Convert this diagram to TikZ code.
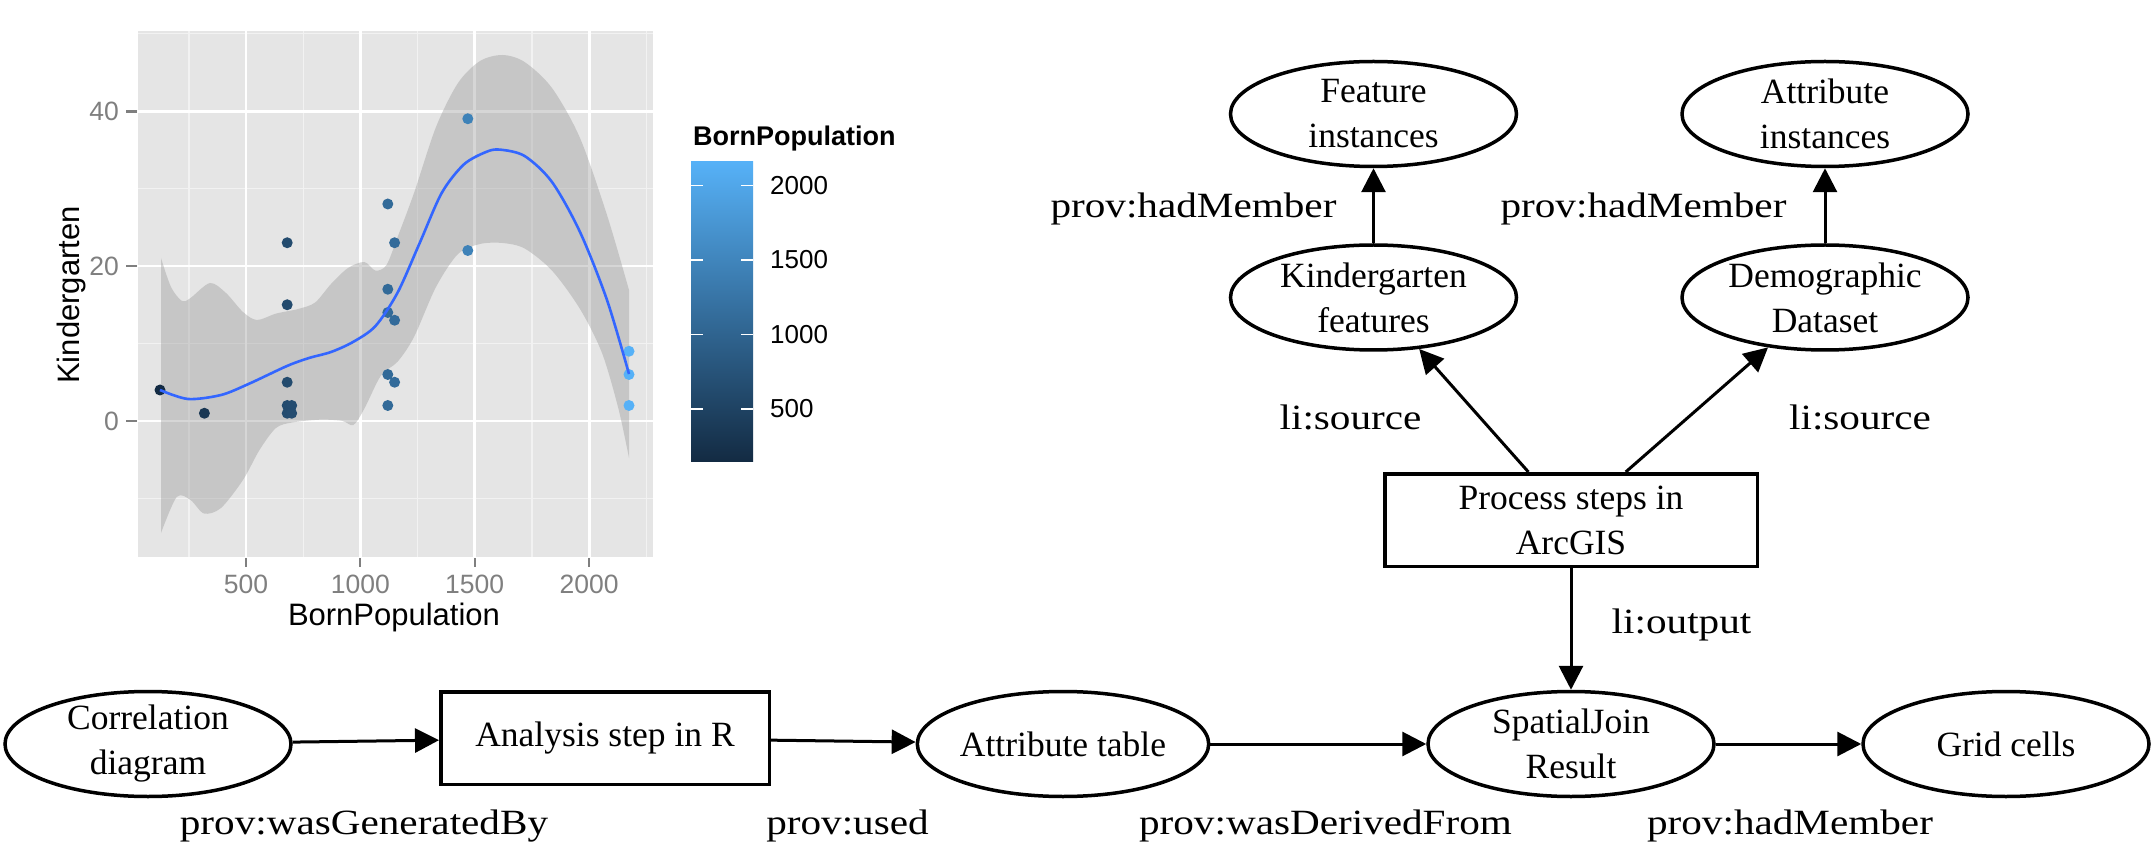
\documentclass[tikz,border=0pt]{standalone}
\usepackage{fontspec}
\setmainfont{Liberation Serif}
\newfontfamily\plotfont{Liberation Sans}
\newfontfamily\lblfont[FakeStretch=1.16]{Liberation Serif}
\usetikzlibrary{shapes.geometric,arrows.meta}
\definecolor{lo}{RGB}{19,43,67}
\definecolor{hi}{RGB}{86,177,247}
\definecolor{panelbg}{RGB}{229,229,229}
\definecolor{minorgrid}{RGB}{242,242,242}
\definecolor{smoothline}{RGB}{51,102,255}
\definecolor{bandgray}{RGB}{153,153,153}
\definecolor{axisgray}{RGB}{127,127,127}
\begin{document}
\begin{tikzpicture}[x=1pt,y=-1pt,
  ell/.style={ellipse,draw,line width=3.5pt,minimum width=286pt,minimum height=105pt,
    inner xsep=0pt,inner ysep=-5pt,align=center,font=\fontsize{35.5}{45}\selectfont},
  stepbox/.style={rectangle,draw,line width=3.5pt,align=center,inner sep=0pt,
    minimum height=92.5pt,font=\fontsize{35.5}{45}\selectfont},
  edge/.style={line width=3pt,-{Triangle[length=24pt,width=24pt]}},
  elabel/.style={anchor=base,inner sep=0pt,font=\lblfont\fontsize{35.5}{45}\selectfont},
  majorgrid/.style={white,line width=2.8pt},
  minorgridline/.style={minorgrid,line width=1.4pt},
  tickmark/.style={axisgray,line width=2.2pt},
  ticklabel/.style={inner sep=0pt,text=axisgray,font=\plotfont\fontsize{26.5}{30}\selectfont},
  legendlabel/.style={inner sep=0pt,anchor=west,font=\plotfont\fontsize{26}{30}\selectfont},
  axistitle/.style={inner sep=0pt,anchor=base,font=\plotfont\fontsize{31}{36}\selectfont},
  datapt/.style={circle,inner sep=0pt,minimum size=11pt}
]
\useasboundingbox (0,0) rectangle (2153,866);
\fill[white] (0,0) rectangle (2153,866);

% ---------- plot panel ----------
\fill[panelbg] (138,31.5) rectangle (653,557);
\foreach \gx in {188.8,303.2,417.5,531.9,646.2}
  \draw[minorgridline] (\gx,31.5) -- (\gx,557);
\foreach \gy in {33.5,188.5,343.5,498.5}
  \draw[minorgridline] (138,\gy) -- (653,\gy);
\foreach \gx in {246,360.3,474.7,589.1}
  \draw[majorgrid] (\gx,31.5) -- (\gx,557);
\foreach \gy in {111.5,266,421}
  \draw[majorgrid] (138,\gy) -- (653,\gy);

% confidence band
\fill[bandgray,fill opacity=0.4]
  plot[smooth] coordinates {(161,258) (171,287) (182,301) (190.5,298) (210,283) (226,293)
    (243,312) (257,320) (276,313.6) (298,309) (315,302.6) (331,284) (348,268) (364.4,262)
    (375.5,270.6) (386.5,265) (397.6,237) (414,193) (436,127) (458,83) (480,61) (502.5,55)
    (524.6,62) (552,88) (580,138) (607,215) (629,290)}
  -- plot[smooth] coordinates {(629,458) (618.4,408.6) (602,353) (580,309) (552,270.6)
    (524.6,248.5) (502.5,243) (480,244) (458,254) (436,287) (414,337) (397.6,361.7)
    (381,375.5) (364.4,408.6) (353.4,425) (342,420.8) (320,419.7) (292.7,422.4) (276,428)
    (259.5,450) (243,480) (221,508) (204,513.5) (190.5,500) (176.7,497) (161,533)}
  -- cycle;

% data points
\foreach \px/\py/\c in {160/390/0, 204.4/413.25/9,
   287.2/242.75/24, 287.2/304.75/24, 287.2/382.25/24, 287.2/405.5/24, 291.7/405.5/25,
   287.2/413.25/24, 291.7/413.25/25,
   387.8/204/47, 394.6/242.75/48, 387.8/289.25/47, 387.8/312.5/47, 394.6/320.25/48,
   387.8/374.5/47, 394.6/382.25/48, 387.8/405.5/47,
   467.8/118.75/65, 467.8/250.5/65,
   629/351.25/100, 629/374.5/100, 629/405.5/100}
  \fill[hi!\c!lo] (\px,\py) circle (5.5);

% smoothing line
\draw[smoothline,line width=2.6pt] plot[smooth] coordinates {(160,390) (188,399) (221,395)
  (248.5,384) (287,366) (309,358) (331,352) (353,342) (375.5,326) (397.6,292.6)
  (419.7,243) (441.7,193) (463.8,164.5) (486,152) (499.7,149.6) (524.6,156) (552,182)
  (580,232) (607,300) (629,374)};

% axes ticks and labels
\foreach \gy/\lab in {111.5/40,266/20,421/0} {
  \draw[tickmark] (126,\gy) -- (137,\gy);
  \node[ticklabel,anchor=east] at (119,\gy) {\lab};
}
\foreach \gx/\lab in {246/500,360.3/1000,474.7/1500,589.1/2000} {
  \draw[tickmark] (\gx,558) -- (\gx,567);
  \node[ticklabel,anchor=base] at (\gx,593.6) {\lab};
}
\node[axistitle] (xtitle) at (394,625.6) {BornPopulation};
\node[axistitle,rotate=90] (ytitle) at (79,295) {Kindergarten};

% legend
\node[inner sep=0pt,anchor=base west,font=\plotfont\bfseries\fontsize{27}{30}\selectfont]
  (legtitle) at (693,146) {BornPopulation};
\shade[bottom color=lo,top color=hi] (691,162) rectangle (753,461);
\foreach \ly/\lab in {185.5/2000,260/1500,334.5/1000,409/500} {
  \draw[white,line width=1.4pt] (691,\ly) -- (703,\ly);
  \draw[white,line width=1.4pt] (741,\ly) -- (753,\ly);
  \node[legendlabel] at (770,\ly) {\lab};
}

% ---------- provenance graph ----------
\node[ell] (fi) at (1373.5,114) {Feature\\instances};
\node[ell] (ai) at (1825,114) {Attribute\\instances};
\node[ell] (kf) at (1373.5,297.5) {Kindergarten\\features};
\node[ell] (dd) at (1825,297.5) {Demographic\\Dataset};
\node[stepbox,minimum width=372.5pt] (proc) at (1571,520) {Process steps in\\ArcGIS};
\node[ell] (corr) at (148,744) {Correlation\\diagram};
\node[stepbox,minimum width=328.5pt] (ana) at (605,738) {Analysis step in R};
\node[ell] (attr) at (1063,744) {Attribute table};
\node[ell] (sj) at (1571,744) {SpatialJoin\\Result};
\node[ell] (grid) at (2006,744) {Grid cells};

\draw[edge] (corr) -- (ana);
\draw[edge] (ana) -- (attr);
\draw[edge] (attr) -- (sj);
\draw[edge] (sj) -- (grid);
\draw[edge] (proc) -- (sj);
\draw[edge] (proc) -- (kf);
\draw[edge] (proc) -- (dd);
\draw[edge] (kf) -- (fi);
\draw[edge] (dd) -- (ai);

\node[elabel] (l1) at (1193.5,218) {prov:hadMember};
\node[elabel] (l2) at (1643.5,218) {prov:hadMember};
\node[elabel] (l3) at (1350.5,430) {li:source};
\node[elabel] (l4) at (1860,430) {li:source};
\node[elabel] (l5) at (1681.5,633) {li:output};
\node[elabel] (l6) at (364,834) {prov:wasGeneratedBy};
\node[elabel] (l7) at (847.5,834) {prov:used};
\node[elabel] (l8) at (1325.5,834) {prov:wasDerivedFrom};
\node[elabel] (l9) at (1790,834) {prov:hadMember};
\end{tikzpicture}
\end{document}
